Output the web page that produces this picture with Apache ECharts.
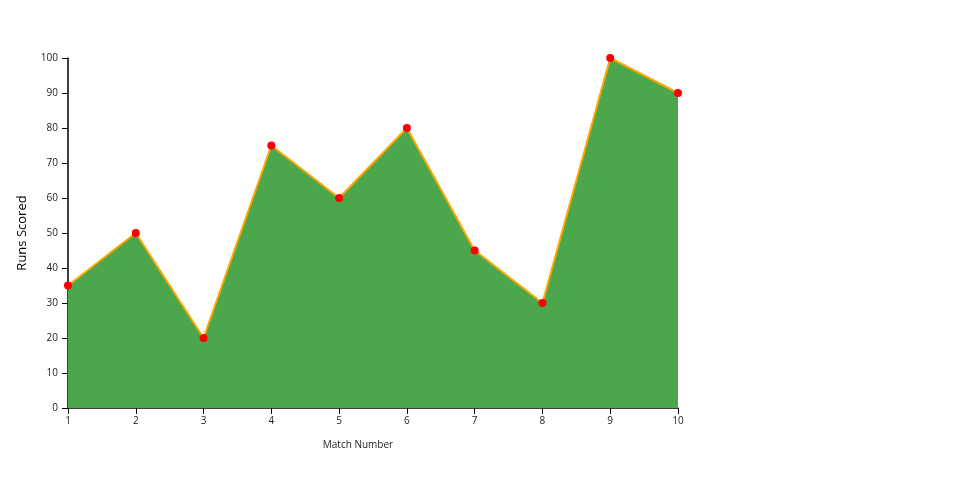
<!DOCTYPE html>
<html><head><meta charset="utf-8">
<script src="https://cdn.jsdelivr.net/npm/echarts@6/dist/echarts.min.js"></script>
<style>html,body{margin:0;padding:0;background:#fff}#c{width:960px;height:500px}</style>
</head><body><div id="c"></div>
<script>
const matches = ['1','2','3','4','5','6','7','8','9','10'];
const runs = [35, 50, 20, 75, 60, 80, 45, 30, 100, 90];
const font = '"Open Sans", "Noto Sans", sans-serif';
const chart = echarts.init(document.getElementById('c'), null, {renderer: 'canvas'});
chart.setOption({
  animation: false,
  grid: {left: 68, right: 282, top: 58, bottom: 92},
  xAxis: {
    type: 'category', data: matches, boundaryGap: false,
    name: 'Match Number', nameLocation: 'middle', nameGap: 32,
    nameTextStyle: {fontFamily: font, fontSize: 10, color: '#222', padding: [0, 30, 0, 0]},
    axisLine: {lineStyle: {color: '#000', width: 1.5}},
    axisTick: {alignWithLabel: true, length: 6, lineStyle: {color: '#000'}},
    axisLabel: {fontFamily: font, fontSize: 10, color: '#222', margin: 8},
    splitLine: {show: false}
  },
  yAxis: {
    type: 'value', min: 0, max: 100, interval: 10,
    name: 'Runs Scored', nameLocation: 'middle', nameGap: 39,
    nameTextStyle: {fontFamily: font, fontSize: 13, color: '#000'},
    axisLine: {show: true, lineStyle: {color: '#000', width: 1.5}},
    axisTick: {show: true, length: 6, lineStyle: {color: '#000'}},
    axisLabel: {fontFamily: font, fontSize: 10, color: '#222', margin: 10},
    splitLine: {show: false}
  },
  series: [{
    type: 'line', data: runs,
    symbol: 'circle', symbolSize: 8,
    itemStyle: {color: '#ff0000'},
    lineStyle: {color: '#ffa500', width: 2},
    areaStyle: {color: '#4ca64c', opacity: 1},
    z: 2
  }]
});
</script></body></html>
